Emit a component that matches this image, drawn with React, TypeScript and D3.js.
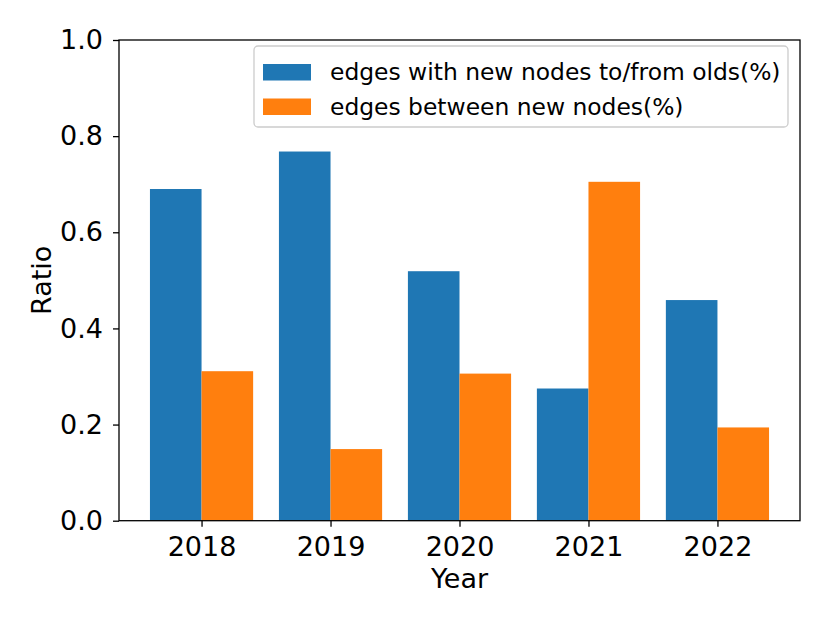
import { useEffect, useRef } from "react";
import * as d3 from "d3";

const years = ["2018", "2019", "2020", "2021", "2022"];
const withOlds = [0.69, 0.768, 0.519, 0.275, 0.459];
const betweenNew = [0.311, 0.149, 0.306, 0.705, 0.194];
const seriesNames = ["edges with new nodes to/from olds(%)", "edges between new nodes(%)"];
const yTicks = [0, 0.2, 0.4, 0.6, 0.8, 1.0];

const COLORS = ["#1f77b4", "#ff7f0e"];
const FONT = "'DejaVu Sans', sans-serif";
const TICK_FS = 27;
const LEGEND_FS = 23.4;

export default function App() {
  const svgRef = useRef<SVGSVGElement | null>(null);

  useEffect(() => {
    document.body.style.margin = "0";
    const svgEl = svgRef.current;
    if (!svgEl) return;

    const width = 830;
    const height = 622;
    const left = 119, right = 800, top = 40, bottom = 520.7;
    const barW = 0.4;

    const svg = d3.select(svgEl);
    svg.selectAll("*").remove();
    svg.attr("width", width).attr("height", height);
    svg.append("rect").attr("width", width).attr("height", height).attr("fill", "#fff");

    // matplotlib-style index axis with 5% margins around the bars
    const x = d3.scaleLinear().domain([-0.64, years.length - 1 + 0.64]).range([left, right]);
    const y = d3.scaleLinear().domain([0, 1]).range([bottom, top]);

    const series = [withOlds, betweenNew];
    series.forEach((vals, si) => {
      svg
        .append("g")
        .selectAll("rect")
        .data(vals)
        .enter()
        .append("rect")
        .attr("x", (_, i) => x(i - barW + si * barW))
        .attr("width", x(barW) - x(0))
        .attr("y", (v) => y(v))
        .attr("height", (v) => y(0) - y(v))
        .attr("fill", COLORS[si]);
    });

    // y axis
    const yAxis = svg
      .append("g")
      .attr("transform", `translate(${left},0)`)
      .call(d3.axisLeft(y).tickValues(yTicks).tickSize(6).tickPadding(10).tickFormat(d3.format(".1f")) as any);
    yAxis.selectAll("text").attr("font-size", TICK_FS).attr("font-family", FONT).attr("fill", "#000");

    // x axis
    const xAxis = svg
      .append("g")
      .attr("transform", `translate(0,${bottom})`)
      .call(
        d3
          .axisBottom(x)
          .tickValues(d3.range(years.length))
          .tickSize(6)
          .tickPadding(10)
          .tickFormat((d) => years[d as number]) as any
      );
    xAxis.selectAll("text").attr("font-size", TICK_FS).attr("font-family", FONT).attr("fill", "#000");

    svg.selectAll(".domain").remove();
    svg.selectAll(".tick line").attr("stroke", "#000").attr("stroke-width", 1.3);

    // frame
    svg
      .append("rect")
      .attr("x", left)
      .attr("y", top)
      .attr("width", right - left)
      .attr("height", bottom - top)
      .attr("fill", "none")
      .attr("stroke", "#000")
      .attr("stroke-width", 1.3);

    // axis labels
    svg
      .append("text")
      .attr("x", (left + right) / 2)
      .attr("y", 588)
      .attr("text-anchor", "middle")
      .attr("font-size", TICK_FS)
      .attr("font-family", FONT)
      .text("Year");
    svg
      .append("text")
      .attr("transform", `translate(51,${(top + bottom) / 2}) rotate(-90)`)
      .attr("text-anchor", "middle")
      .attr("font-size", TICK_FS)
      .attr("font-family", FONT)
      .text("Ratio");

    // legend
    const lg = svg.append("g");
    lg.append("rect")
      .attr("x", 254)
      .attr("y", 46)
      .attr("width", 534)
      .attr("height", 81)
      .attr("rx", 4)
      .attr("fill", "#fff")
      .attr("fill-opacity", 0.8)
      .attr("stroke", "#cccccc")
      .attr("stroke-width", 1.3);
    seriesNames.forEach((name, i) => {
      const cy = 72 + i * 34.5;
      lg.append("rect")
        .attr("x", 263)
        .attr("y", cy - 8)
        .attr("width", 48)
        .attr("height", 16.5)
        .attr("fill", COLORS[i]);
      lg.append("text")
        .attr("x", 330)
        .attr("y", cy)
        .attr("dy", "0.36em")
        .attr("font-size", LEGEND_FS)
        .attr("font-family", FONT)
        .text(name);
    });
  }, []);

  return <svg ref={svgRef} style={{ display: "block" }} />;
}
